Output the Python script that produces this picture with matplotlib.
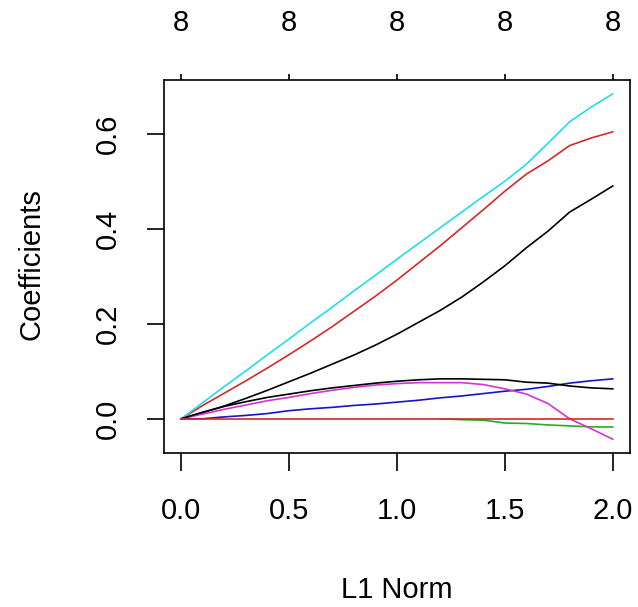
import numpy as np
import matplotlib
matplotlib.use("Agg")
import matplotlib.pyplot as plt

plt.rcParams['font.family'] = ['Liberation Sans', 'DejaVu Sans']

# L1 norm grid and coefficient paths
l1_norm = [0.0, 0.1, 0.2, 0.3, 0.4, 0.5, 0.6, 0.7, 0.8, 0.9, 1.0,
           1.1, 1.2, 1.3, 1.4, 1.5, 1.6, 1.7, 1.8, 1.9, 2.0]

coef_black_a = [0, 0.013, 0.027, 0.043, 0.060, 0.078, 0.096, 0.115, 0.134, 0.155, 0.178,
                0.203, 0.228, 0.256, 0.288, 0.322, 0.360, 0.395, 0.435, 0.462, 0.490]
coef_red_a = [0, 0.028, 0.054, 0.080, 0.107, 0.135, 0.164, 0.194, 0.226, 0.258, 0.292,
              0.328, 0.364, 0.402, 0.440, 0.479, 0.515, 0.543, 0.575, 0.591, 0.604]
coef_green = [np.nan] * 12 + [0.0, -0.002, -0.003, -0.009, -0.010, -0.013, -0.015, -0.017, -0.0175]
coef_blue = [0, 0.0, 0.004, 0.007, 0.011, 0.017, 0.021, 0.024, 0.028, 0.031, 0.035,
             0.039, 0.044, 0.048, 0.053, 0.058, 0.062, 0.068, 0.075, 0.080, 0.084]
coef_cyan = [0, 0.034, 0.068, 0.101, 0.135, 0.168, 0.202, 0.235, 0.269, 0.302, 0.336,
             0.369, 0.402, 0.435, 0.468, 0.500, 0.536, 0.580, 0.625, 0.656, 0.684]
coef_magenta = [0, 0.010, 0.020, 0.029, 0.038, 0.045, 0.053, 0.060, 0.066, 0.071, 0.074,
                0.076, 0.076, 0.076, 0.072, 0.063, 0.052, 0.032, 0.0, -0.021, -0.043]
coef_black_b = [0, 0.014, 0.026, 0.036, 0.045, 0.052, 0.059, 0.065, 0.070, 0.075, 0.079,
                0.082, 0.084, 0.084, 0.083, 0.082, 0.077, 0.075, 0.069, 0.065, 0.063]
coef_red_b = [0.0] * 21

paths = [coef_black_a, coef_red_a, coef_green, coef_blue,
         coef_cyan, coef_magenta, coef_black_b, coef_red_b]
colors = ['black', '#d42a2a', '#22b022', '#1414c8',
          '#22dde8', '#d434d4', 'black', '#d42a2a']

x_ticks = [0.0, 0.5, 1.0, 1.5, 2.0]
x_ticklabels = ['0.0', '0.5', '1.0', '1.5', '2.0']
y_ticks = [0.0, 0.2, 0.4, 0.6]
y_ticklabels = ['0.0', '0.2', '0.4', '0.6']
df_labels = ['8', '8', '8', '8', '8']

fig = plt.figure(figsize=(6.38, 6.07), dpi=100)
ax = fig.add_axes((164 / 638, 1 - 453 / 607, (630 - 164) / 638, (453 - 80) / 607))

for ys, c in zip(paths, colors):
    ax.plot(l1_norm, ys, color=c, lw=1.2)

# R-style 4% padding around the data range
allv = np.array([v for p in paths for v in p], dtype=float)
lo, hi = np.nanmin(allv), np.nanmax(allv)
pad = 0.04 * (hi - lo)
ax.set_ylim(lo - pad, hi + pad)
ax.set_xlim(-0.08, 2.08)

ax.set_xticks(x_ticks, labels=x_ticklabels)
ax.set_yticks(y_ticks, labels=y_ticklabels)
for s in ax.spines.values():
    s.set_linewidth(1.2)
ax.tick_params(axis='x', length=13, width=1.2, labelsize=21, pad=19)
ax.tick_params(axis='y', length=12, width=1.2, labelsize=21, pad=18, labelrotation=90)
for lab in ax.get_yticklabels():
    lab.set_va('center')

top = ax.secondary_xaxis('top')
top.set_xticks(x_ticks, labels=df_labels)
top.tick_params(length=4, width=1.2, labelsize=21, pad=27)
top.spines['top'].set_visible(False)

fig.text(397 / 638, 1 - 590 / 607, 'L1 Norm', ha='center', va='center', fontsize=21)
fig.text(32 / 638, 1 - 264 / 607, 'Coefficients', ha='center', va='center',
         rotation=90, fontsize=21)

fig.savefig('out.png', dpi=100)
